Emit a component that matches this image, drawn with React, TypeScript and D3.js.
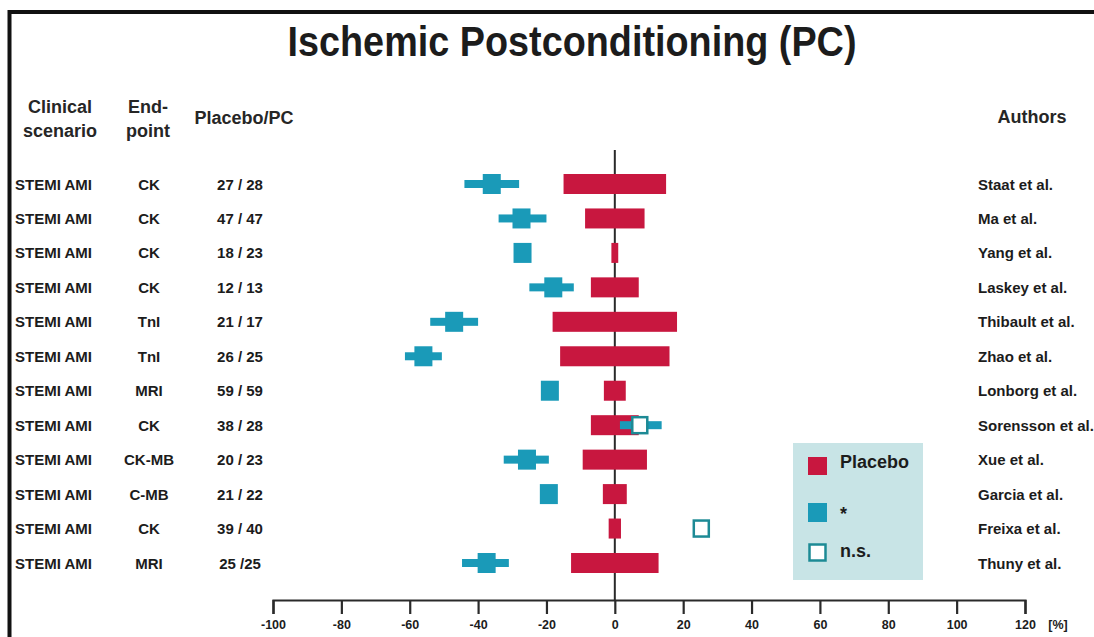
import { useEffect, useRef } from 'react';
import * as d3 from 'd3';

// rows, top to bottom
const authors = ['Staat et al.', 'Ma et al.', 'Yang et al.', 'Laskey et al.', 'Thibault et al.', 'Zhao et al.',
  'Lonborg et al.', 'Sorensson et al.', 'Xue et al.', 'Garcia et al.', 'Freixa et al.', 'Thuny et al.'];
const scenarios = ['STEMI AMI', 'STEMI AMI', 'STEMI AMI', 'STEMI AMI', 'STEMI AMI', 'STEMI AMI',
  'STEMI AMI', 'STEMI AMI', 'STEMI AMI', 'STEMI AMI', 'STEMI AMI', 'STEMI AMI'];
const endpoints = ['CK', 'CK', 'CK', 'CK', 'TnI', 'TnI', 'MRI', 'CK', 'CK-MB', 'C-MB', 'CK', 'MRI'];
const patients = ['27 / 28', '47 / 47', '18 / 23', '12 / 13', '21 / 17', '26 / 25', '59 / 59', '38 / 28',
  '20 / 23', '21 / 22', '39 / 40', '25 /25'];

// placebo spread (symmetric around 0), in %
const placeboHalf = [15, 8.7, 1, 7, 18.2, 16, 3.2, 7, 9.4, 3.5, 1.8, 12.8];
// PC effect vs placebo, in %
const pcEffect = [-36, -27.3, -27, -18, -47, -56, -19, 7.3, -25.7, -19.3, 25.3, -37.5];
const pcLow = [-44, -34, -28, -25, -54, -61.4, -21, 1.5, -32.5, -21, 24.5, -44.7];
const pcHigh = [-28, -20, -26, -12, -40, -50.6, -17, 13.7, -19.3, -17.5, 26, -31];
const significant = [true, true, true, true, true, true, true, false, true, true, false, true];

const xTicks = [-100, -80, -60, -40, -20, 0, 20, 40, 60, 80, 100, 120];

const W = 1094;
const H = 637;
const RED = '#c8173f';
const CYAN = '#1a9ab8';
const TEAL = '#1d8a95';
const INK = '#1c1c1c';
const FONT = '"Liberation Sans", Arial, sans-serif';

export default function App() {
  const axisRef = useRef<SVGGElement>(null);

  const x = d3.scaleLinear().domain([-100, 120]).range([273, 1025]);
  const y = d3.scalePoint<string>().domain(authors).range([184, 563]);

  useEffect(() => {
    const g = d3.select(axisRef.current);
    g.selectAll('*').remove();
    g.call(
      d3.axisBottom(x)
        .tickValues(xTicks)
        .tickSize(14)
        .tickSizeOuter(14)
        .tickPadding(6)
        .tickFormat(d => String(d))
    );
    g.selectAll('path, line').attr('stroke', '#2a2a2a').attr('stroke-width', 2.2);
    g.selectAll('text')
      .attr('fill', INK)
      .style('font-family', FONT)
      .style('font-weight', 'bold')
      .style('font-size', '12.5px');
  }, []);

  const rows = authors.map((a, i) => ({ a, i, cy: y(a) as number }));

  return (
    <svg width={W} height={H} style={{ position: 'absolute', left: 0, top: 0, background: '#fff' }}
      fontFamily={FONT}>
      {/* frame */}
      <path d={`M9.5,${H} V12 H${W}`} fill="none" stroke="#111" strokeWidth={4} />

      <text x={572} y={56} textAnchor="middle" fontSize={42} fontWeight="bold" fill={INK}
        textLength={569} lengthAdjust="spacingAndGlyphs">Ischemic Postconditioning (PC)</text>

      {/* column headers */}
      <g fontSize={18} fontWeight="bold" fill="#262626" textAnchor="middle">
        <text x={60} y={113}>Clinical</text>
        <text x={60} y={137}>scenario</text>
        <text x={148} y={113}>End-</text>
        <text x={148} y={137}>point</text>
        <text x={244} y={124}>Placebo/PC</text>
        <text x={1032} y={123}>Authors</text>
      </g>

      {/* row labels */}
      <g fontSize={15} fontWeight="bold" fill={INK}>
        {rows.map(({ a, i, cy }) => (
          <g key={a}>
            <text x={15} y={cy + 5.5}>{scenarios[i]}</text>
            <text x={149} y={cy + 5.5} textAnchor="middle">{endpoints[i]}</text>
            <text x={240} y={cy + 5.5} textAnchor="middle">{patients[i]}</text>
            <text x={978} y={cy + 5.5}>{a}</text>
          </g>
        ))}
      </g>

      {/* zero line */}
      <line x1={x(0)} x2={x(0)} y1={150} y2={600} stroke="#2a2a2a" strokeWidth={2} />

      {/* placebo bars */}
      {rows.map(({ a, i, cy }) => (
        <rect key={'p' + a} x={x(-placeboHalf[i])} y={cy - 10}
          width={x(placeboHalf[i]) - x(-placeboHalf[i])} height={20} fill={RED} />
      ))}

      {/* PC markers */}
      {rows.map(({ a, i, cy }) => (
        <g key={'c' + a}>
          <rect x={x(pcLow[i])} y={cy - 4} width={x(pcHigh[i]) - x(pcLow[i])} height={8} fill={CYAN} />
          {significant[i] ? (
            <rect x={x(pcEffect[i]) - 9} y={cy - 10} width={18} height={20} fill={CYAN} />
          ) : (
            <rect x={x(pcEffect[i]) - 7.5} y={cy - 8} width={15} height={16} fill="#fff"
              stroke={TEAL} strokeWidth={2.5} />
          )}
        </g>
      ))}

      {/* x axis */}
      <g ref={axisRef} transform="translate(0,600)" />
      <text x={1058} y={629} textAnchor="middle" fontSize={12.5} fontWeight="bold" fill={INK}>[%]</text>

      {/* legend */}
      <g>
        <rect x={793} y={443} width={130} height={137} fill="#c8e4e6" />
        <rect x={808} y={457} width={19} height={18} fill={RED} />
        <text x={840} y={468} fontSize={18} fontWeight="bold" fill={INK}>Placebo</text>
        <rect x={808} y={503} width={19} height={19} fill={CYAN} />
        <text x={840} y={520} fontSize={18} fontWeight="bold" fill={INK}>*</text>
        <rect x={809.5} y={544.5} width={16} height={16} fill="#fff" stroke={TEAL} strokeWidth={2.5} />
        <text x={840} y={557} fontSize={18} fontWeight="bold" fill={INK}>n.s.</text>
      </g>
    </svg>
  );
}
